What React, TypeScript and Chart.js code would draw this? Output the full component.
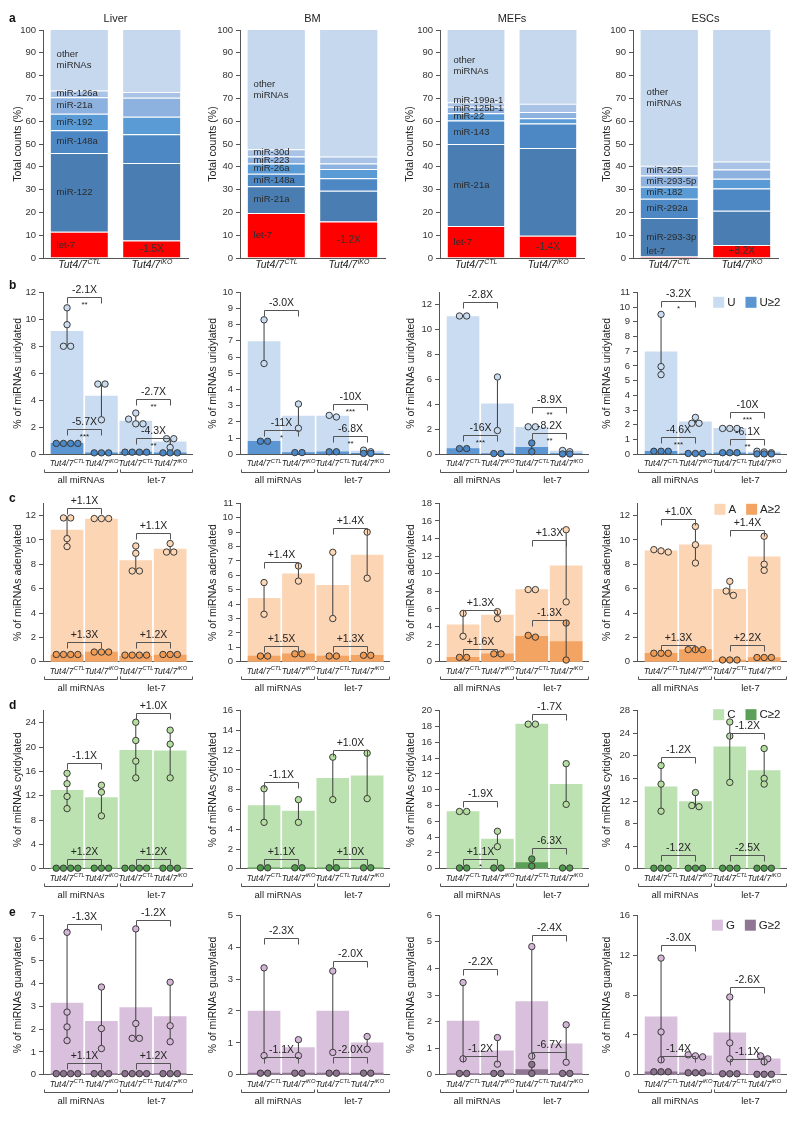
import React, { useEffect, useRef } from "react";
import { Chart, registerables } from "chart.js";
Chart.register(...registerables);

const FONT = "'Liberation Sans', Arial, Helvetica, sans-serif";
const AXIS_COLOR = "#555555";
const TEXT_COLOR = "#222222";

// ---------------- shared labels ----------------
const cellTypes = ["Liver", "BM", "MEFs", "ESCs"];
const genotypeBase = "Tut4/7";
const genotypeSup = ["CTL", "iKO", "CTL", "iKO"];
const groupNames = ["all miRNAs", "let-7"];
const panelLetters = ["a", "b", "c", "d", "e"];

// ---------------- row a: composition (%) ----------------
const liverMiRNAs = ["let-7", "miR-122", "miR-148a", "miR-192", "miR-21a", "miR-126a", "other miRNAs"];
const liverCTL = [11.5, 34.5, 10.0, 7.3, 7.2, 3.0, 26.5];
const liverKO = [7.7, 34.0, 12.6, 7.7, 8.3, 2.5, 27.2];
const bmMiRNAs = ["let-7", "miR-21a", "miR-148a", "miR-26a", "miR-223", "miR-30d", "other miRNAs"];
const bmCTL = [19.7, 11.8, 5.5, 4.5, 3.0, 3.2, 52.3];
const bmKO = [16.0, 13.5, 5.5, 4.0, 2.5, 3.0, 55.5];
const mefMiRNAs = ["let-7", "miR-21a", "miR-143", "miR-22", "miR-125b-1", "miR-199a-1", "other miRNAs"];
const mefCTL = [14.0, 36.0, 10.3, 3.2, 2.8, 2.0, 31.7];
const mefKO = [9.8, 38.5, 10.7, 2.3, 2.7, 3.7, 32.3];
const escMiRNAs = ["let-7", "miR-293-3p", "miR-292a", "miR-182", "miR-293-5p", "miR-295", "other miRNAs"];
const escCTL = [0.7, 16.8, 8.5, 5.3, 4.9, 4.3, 59.5];
const escKO = [5.7, 15.0, 9.8, 4.3, 4.0, 3.5, 57.7];
const let7Fold = ["-1.5X", "-1.2X", "-1.4X", "+8.2X"];

// ---------------- row b: uridylation ----------------
const uLabels = ["U", "U\u22652"];
const uMax = [12, 10, 13, 11];
const uStep = [1, 1, 1, 1];
const uBarLight = [[9.1, 4.3, 2.45, 0.92], [6.95, 2.35, 2.35, 0.2], [11.05, 4.05, 2.15, 0.25], [6.95, 2.2, 1.75, 0.15]];
const uBarDark = [[0.8, 0.1, 0.15, 0.1], [0.8, 0.1, 0.15, 0.05], [0.45, 0.05, 0.55, 0.02], [0.2, 0.05, 0.1, 0.02]];
const uDotsLight = [
  [[10.85, 9.6, 8.0, 8.0], [5.2, 5.2, 2.55], [3.05, 2.6, 2.25, 2.25], [1.15, 1.15, 0.5]],
  [[8.3, 5.6], [3.1, 1.6], [2.4, 2.3], [0.25, 0.15]],
  [[11.1, 11.1], [6.2, 1.9], [2.2, 2.2], [0.3, 0.2]],
  [[9.5, 5.95, 5.4], [2.5, 2.1, 2.1], [1.75, 1.75, 1.75], [0.2, 0.15, 0.1]],
];
const uDotsDark = [
  [[0.8, 0.8, 0.8, 0.8], [0.1, 0.1, 0.1], [0.15, 0.15, 0.15, 0.15], [0.1, 0.1, 0.1]],
  [[0.8, 0.8], [0.1, 0.1], [0.15, 0.15], [0.05, 0.05]],
  [[0.45, 0.45], [0.05, 0.05], [0.9, 0.2], [0.02, 0.02]],
  [[0.2, 0.2, 0.2], [0.05, 0.05, 0.05], [0.1, 0.1, 0.1], [0.02, 0.02, 0.02]],
];
const uFold = [["-2.1X", "-5.7X", "-2.7X", "-4.3X"], ["-3.0X", "-11X", "-10X", "-6.8X"], ["-2.8X", "-16X", "-8.9X", "-8.2X"], ["-3.2X", "-4.6X", "-10X", "-6.1X"]];
const uStars = [["**", "***", "**", "**"], ["", "*", "***", "**"], ["", "***", "**", "**"], ["*", "***", "***", "**"]];
const uFoldY = [[11.67, 1.89, 4.11, 1.2], [8.9, 1.5, 3.1, 1.15], [12.24, 1.56, 3.81, 1.74], [10.42, 1.2, 2.9, 1.02]];

// ---------------- row c: adenylation ----------------
const aLabels = ["A", "A\u22652"];
const aMax = [13, 11, 18, 13];
const aStep = [1, 1, 2, 1];
const aBarLight = [[10.8, 11.7, 8.3, 9.25], [4.4, 6.1, 5.3, 7.4], [4.2, 5.3, 8.2, 10.9], [9.1, 9.6, 5.95, 8.6]];
const aBarDark = [[0.55, 0.8, 0.45, 0.55], [0.4, 0.55, 0.4, 0.45], [0.5, 0.9, 2.9, 2.3], [0.7, 1.0, 0.15, 0.35]];
const aDotsLight = [
  [[11.8, 11.8, 10.1, 9.45], [11.75, 11.75, 11.75], [9.5, 8.9, 7.45, 7.45], [9.7, 9.0, 9.0]],
  [[5.5, 3.3], [6.65, 5.6], [7.6, 3.0], [9.0, 5.8]],
  [[5.5, 2.9], [5.7, 4.9], [8.2, 8.2], [15.0, 6.8]],
  [[9.2, 9.1, 9.0], [11.1, 9.6, 8.1], [6.6, 5.8, 5.45], [10.3, 8.0, 7.5]],
];
const aDotsDark = [
  [[0.6, 0.6, 0.6, 0.6], [0.8, 0.8, 0.8], [0.55, 0.55, 0.55, 0.55], [0.6, 0.6, 0.6]],
  [[0.4, 0.4], [0.55, 0.55], [0.4, 0.4], [0.45, 0.45]],
  [[0.5, 0.5], [0.9, 0.9], [3.0, 2.8], [4.4, 0.2]],
  [[0.7, 0.7, 0.7], [1.0, 1.0, 1.0], [0.15, 0.15, 0.15], [0.35, 0.35, 0.35]],
];
const aFold = [["+1.1X", "+1.3X", "+1.1X", "+1.2X"], ["+1.4X", "+1.5X", "+1.4X", "+1.3X"], ["+1.3X", "+1.6X", "+1.3X", "-1.3X"], ["+1.0X", "+1.3X", "+1.4X", "+2.2X"]];
const aStars = [["", "", "", ""], ["", "", "", ""], ["", "", "", ""], ["", "", "", ""]];
const aFoldY = [[12.59, 1.6, 10.56, 1.6], [6.9, 1.1, 9.3, 1.1], [5.9, 1.5, 13.8, 4.8], [11.7, 1.35, 10.8, 1.35]];

// ---------------- row d: cytidylation ----------------
const cLabels = ["C", "C\u22652"];
const cMax = [26, 16, 20, 28];
const cStep = [2, 2, 2, 4];
const cBarLight = [[12.9, 11.7, 19.5, 19.4], [6.4, 5.85, 9.15, 9.4], [7.25, 3.75, 18.3, 10.7], [14.5, 11.9, 21.6, 17.4]];
const cBarDark = [[0.1, 0.1, 0.1, 0.1], [0.1, 0.1, 0.1, 0.1], [0.05, 0.05, 0.8, 0.05], [0.1, 0.1, 0.1, 0.1]];
const cDotsLight = [
  [[15.7, 14.0, 11.9, 9.9], [13.75, 12.6, 8.7], [24.1, 21.1, 17.7, 14.95], [22.8, 20.5, 14.95]],
  [[8.1, 4.7], [7.0, 4.7], [11.3, 7.0], [11.7, 7.1]],
  [[7.25, 7.25], [4.75, 2.8], [18.3, 18.3], [13.3, 8.15]],
  [[18.3, 15.0, 10.2], [13.5, 11.2, 11.0], [26.0, 23.5, 15.3], [21.3, 16.0, 15.0]],
];
const cDotsDark = [
  [[0.1, 0.1, 0.1, 0.1], [0.1, 0.1, 0.1], [0.1, 0.1, 0.1, 0.1], [0.1, 0.1, 0.1]],
  [[0.1, 0.1], [0.1, 0.1], [0.1, 0.1], [0.1, 0.1]],
  [[0.1, 0.1], [0.1, 0.1], [1.25, 0.35], [0.1, 0.1]],
  [[0.1, 0.1, 0.1], [0.1, 0.1, 0.1], [0.1, 0.1, 0.1], [0.1, 0.1, 0.1]],
];
const cFold = [["-1.1X", "+1.2X", "+1.0X", "+1.2X"], ["-1.1X", "+1.1X", "+1.0X", "+1.0X"], ["-1.9X", "+1.1X", "-1.7X", "-6.3X"], ["-1.2X", "-1.2X", "-1.2X", "-2.5X"]];
const cStars = [["", "", "", ""], ["", "", "", ""], ["", "*", "", ""], ["", "", "", ""]];
const cFoldY = [[17.46, 1.62, 25.7, 1.62], [8.8, 1.0, 12.0, 1.0], [8.58, 1.3, 19.6, 2.6], [19.8, 2.5, 24.0, 2.5]];

// ---------------- row e: guanylation ----------------
const gLabels = ["G", "G\u22652"];
const gMax = [7, 5, 6, 16];
const gStep = [1, 1, 1, 4];
const gBarLight = [[3.15, 2.35, 2.95, 2.55], [2.0, 0.85, 2.0, 1.0], [2.02, 0.9, 2.75, 1.16], [5.8, 1.9, 4.2, 1.6]];
const gBarDark = [[0.05, 0.05, 0.05, 0.05], [0.05, 0.05, 0.05, 0.05], [0.05, 0.05, 0.2, 0.05], [0.3, 0.2, 0.1, 0.05]];
const gDotsLight = [
  [[6.25, 2.75, 2.1, 1.5], [3.85, 2.03, 1.15], [6.4, 2.25, 1.6, 1.6], [4.06, 2.15, 1.45]],
  [[3.35, 0.6], [1.1, 0.6], [3.25, 0.7], [1.2, 0.8]],
  [[3.47, 0.6], [1.4, 0.4], [4.82, 0.7], [1.88, 0.47]],
  [[11.7, 4.3, 1.5], [2.0, 1.9, 1.8], [7.8, 3.2, 1.6], [1.9, 1.6, 1.3]],
];
const gDotsDark = [
  [[0.05, 0.05, 0.05, 0.05], [0.05, 0.05, 0.05], [0.05, 0.05, 0.05, 0.05], [0.05, 0.05, 0.05]],
  [[0.05, 0.05], [0.05, 0.05], [0.05, 0.05], [0.05, 0.05]],
  [[0.05, 0.05], [0.05, 0.05], [0.39, 0.05], [0.05, 0.05]],
  [[0.3, 0.3, 0.3], [0.2, 0.2, 0.2], [0.1, 0.1, 0.1], [0.05, 0.05, 0.05]],
];
const gFold = [["-1.3X", "+1.1X", "-1.2X", "+1.2X"], ["-2.3X", "-1.1X", "-2.0X", "-2.0X"], ["-2.2X", "-1.2X", "-2.4X", "-6.7X"], ["-3.0X", "-1.4X", "-2.6X", "-1.1X"]];
const gStars = [["", "", "", ""], ["", "", "", ""], ["", "", "", ""], ["", "", "", ""]];
const gFoldY = [[6.63, 0.52, 6.81, 0.52], [4.3, 0.55, 3.55, 0.55], [3.97, 0.69, 5.26, 0.84], [13.0, 1.9, 8.8, 1.6]];

// ---------------- styles / layout ----------------
const SEG_COLORS = ["#ff0000", "#4a7db1", "#4e88c4", "#5b9bd5", "#8db2df", "#a9c3e6", "#c6d8ee"];
const A_NAMES = [liverMiRNAs, bmMiRNAs, mefMiRNAs, escMiRNAs];
const A_CTL = [liverCTL, bmCTL, mefCTL, escCTL];
const A_KO = [liverKO, bmKO, mefKO, escKO];
const A_AXIS_REL = [43, 40, 40, 33];
const A_RIGHT_REL = [188, 185, 184, 178];
const A_TITLE_REL = [18, 13, 10, 7];

const ROW_GEOM = [
  { top: 276, height: 214, plotTop: 292.3, plotBottom: 454.2 },
  { top: 490, height: 207, plotTop: 503.3, plotBottom: 661.8 },
  { top: 697, height: 206, plotTop: 710.7, plotBottom: 868.8 },
  { top: 903, height: 218, plotTop: 915.2, plotBottom: 1074.8 },
];
const LEGEND_DY = [10, 6, 4, 10];
const AXIS_REL = [43, 40, 39, 37];
const TITLE_REL = [18, 13, 11, 7];
const PLOT_W = 149.5;
const X_MIN = -0.7;
const X_MAX = 3.65;

const ROWS = [
  { labels: uLabels, yTitle: "% of miRNAs uridylated", max: uMax, step: uStep, barL: uBarLight, barD: uBarDark, dotsL: uDotsLight, dotsD: uDotsDark, fold: uFold, stars: uStars, foldY: uFoldY, colors: ["#c9dcf1", "#5b95d2", "#c9dcf1", "#4a88c8"] },
  { labels: aLabels, yTitle: "% of miRNAs adenylated", max: aMax, step: aStep, barL: aBarLight, barD: aBarDark, dotsL: aDotsLight, dotsD: aDotsDark, fold: aFold, stars: aStars, foldY: aFoldY, colors: ["#fcd5b5", "#f4a462", "#fdd6b3", "#f29b52"] },
  { labels: cLabels, yTitle: "% of miRNAs cytidylated", max: cMax, step: cStep, barL: cBarLight, barD: cBarDark, dotsL: cDotsLight, dotsD: cDotsDark, fold: cFold, stars: cStars, foldY: cFoldY, colors: ["#bde2b1", "#5c9f58", "#b5df9f", "#4f9a4c"] },
  { labels: gLabels, yTitle: "% of miRNAs guanylated", max: gMax, step: gStep, barL: gBarLight, barD: gBarDark, dotsL: gDotsLight, dotsD: gDotsDark, fold: gFold, stars: gStars, foldY: gFoldY, colors: ["#d9c0dc", "#8f7693", "#d5b6d8", "#8d7290"] },
];

function drawGenotype(ctx: CanvasRenderingContext2D, cx: number, cy: number, sup: string, size: number, supSize: number) {
  ctx.font = `italic ${size}px ${FONT}`;
  const w1 = ctx.measureText(genotypeBase).width;
  ctx.font = `italic ${supSize}px ${FONT}`;
  const w2 = ctx.measureText(sup).width;
  const sx = cx - (w1 + w2) / 2;
  ctx.textAlign = "left";
  ctx.textBaseline = "middle";
  ctx.fillStyle = TEXT_COLOR;
  ctx.font = `italic ${size}px ${FONT}`;
  ctx.fillText(genotypeBase, sx, cy);
  ctx.font = `italic ${supSize}px ${FONT}`;
  ctx.fillText(sup, sx + w1 + 0.3, cy - size * 0.32);
}

function yAxis(max: number, step: number, title: string, widthRel: number, titleRel: number) {
  const fs = 10.5;
  return {
    min: 0,
    max,
    ticks: { stepSize: step, font: { family: FONT, size: 9.5 }, color: "#333", padding: 3 },
    grid: { drawOnChartArea: false, drawTicks: true, tickLength: 4, color: AXIS_COLOR },
    border: { display: true, color: AXIS_COLOR, width: 1 },
    title: { display: true, text: title, font: { family: FONT, size: fs }, color: TEXT_COLOR, padding: { top: Math.max(0, titleRel - fs * 0.6), bottom: 0 } },
    afterFit: (s: any) => {
      s.width = widthRel;
    },
  };
}

function stackConfig(col: number): any {
  const names = A_NAMES[col];
  const ctl = A_CTL[col];
  const ko = A_KO[col];
  const datasets = names.map((n, i) => ({
    label: n,
    data: [ctl[i], ko[i]],
    backgroundColor: SEG_COLORS[i],
    borderColor: "#ffffff",
    borderWidth: { top: i === names.length - 1 ? 0 : 1, bottom: 0, left: 0, right: 0 },
    borderSkipped: "start",
    barPercentage: 0.79,
    categoryPercentage: 1,
  }));
  const deco = {
    id: "stackDeco",
    afterDatasetsDraw(chart: any) {
      const { ctx, chartArea, scales } = chart;
      const y = scales.y;
      const meta = chart.getDatasetMeta(0);
      const b0: any = meta.data[0];
      const b1: any = meta.data[1];
      ctx.save();
      const lx = b0.x - b0.width / 2 + 6;
      ctx.font = `9.5px ${FONT}`;
      ctx.fillStyle = "#2b2b2b";
      ctx.textAlign = "left";
      ctx.textBaseline = "middle";
      let cum = 0;
      let prev = Infinity;
      names.forEach((n, i) => {
        const mid = cum + ctl[i] / 2;
        cum += ctl[i];
        let py = y.getPixelForValue(mid);
        py = Math.min(py, chartArea.bottom - 7, prev - 8);
        prev = py;
        if (n === "other miRNAs") {
          ctx.fillText("other", lx, py - 5.5);
          ctx.fillText("miRNAs", lx, py + 5.5);
        } else {
          ctx.fillText(n, lx, py);
        }
      });
      ctx.textAlign = "center";
      ctx.font = `10px ${FONT}`;
      ctx.fillStyle = "#333";
      ctx.fillText(let7Fold[col], b1.x, y.getPixelForValue(ko[0] / 2));
      ctx.font = `11px ${FONT}`;
      ctx.fillStyle = TEXT_COLOR;
      ctx.fillText(cellTypes[col], (chartArea.left + chartArea.right) / 2, 19);
      drawGenotype(ctx, b0.x, chartArea.bottom + 7, genotypeSup[0], 10.5, 7);
      drawGenotype(ctx, b1.x, chartArea.bottom + 7, genotypeSup[1], 10.5, 7);
      ctx.restore();
    },
  };
  return {
    type: "bar",
    data: { labels: ["CTL", "iKO"], datasets },
    options: {
      responsive: false,
      animation: false,
      layout: { padding: { left: 0, right: 200 - A_RIGHT_REL[col], top: 30, bottom: 276 - 258 } },
      plugins: { legend: { display: false }, tooltip: { enabled: false } },
      scales: {
        x: {
          stacked: true,
          ticks: { display: false },
          grid: { display: false, drawTicks: false },
          border: { display: true, color: AXIS_COLOR },
          afterFit: (s: any) => {
            s.height = 0;
          },
        },
        y: { ...yAxis(100, 10, "Total counts (%)", A_AXIS_REL[col], A_TITLE_REL[col]), stacked: true },
      },
    },
    plugins: [deco],
  };
}

function swarm(vals: number[], g: number, pxX: number, pxY: number) {
  const sorted = [...vals].sort((a, b) => b - a);
  const pts: { x: number; y: number }[] = [];
  let i = 0;
  while (i < sorted.length) {
    let j = i + 1;
    while (j < sorted.length && (sorted[i] - sorted[j]) * pxY < 5.5) j++;
    const k = j - i;
    for (let m = 0; m < k; m++) {
      pts.push({ x: g + ((m - (k - 1) / 2) * 7.2) / pxX, y: sorted[i + m] });
    }
    i = j;
  }
  return pts;
}

function dotConfig(r: number, col: number): any {
  const row = ROWS[r];
  const geom = ROW_GEOM[r];
  const max = row.max[col];
  const pxX = PLOT_W / (X_MAX - X_MIN);
  const pxY = (geom.plotBottom - geom.plotTop) / max;
  const [cL, cD, dL, dD] = row.colors;
  const barL = row.barL[col];
  const barD = row.barD[col];
  const dotsL = row.dotsL[col];
  const dotsD = row.dotsD[col];
  const datasets: any[] = [
    { type: "bar", label: row.labels[0], data: barL.map((v, i) => ({ x: i, y: v })), backgroundColor: cL, borderWidth: 0, grouped: false, barThickness: 32, order: 6 },
    { type: "bar", label: row.labels[1], data: barD.map((v, i) => ({ x: i, y: v })), backgroundColor: cD, borderWidth: 0, grouped: false, barThickness: 32, order: 5 },
  ];
  [dotsL, dotsD].forEach((set) => {
    set.forEach((vals, g) => {
      const lo = Math.min(...vals);
      const hi = Math.max(...vals);
      if (hi - lo > 1e-9) {
        datasets.push({
          type: "line",
          label: "range",
          data: [{ x: g, y: lo }, { x: g, y: hi }],
          borderColor: "#3d3d3d",
          borderWidth: 1,
          pointRadius: 0,
          fill: false,
          clip: false,
          order: 4,
        });
      }
    });
  });
  const pointStyle = (fill: string, order: number, sets: number[][]) => ({
    type: "scatter",
    label: "pts",
    data: sets.flatMap((vals, g) => swarm(vals, g, pxX, pxY)),
    pointRadius: 3.2,
    pointBackgroundColor: fill,
    pointBorderColor: "#3a3a3a",
    pointBorderWidth: 1,
    clip: false,
    order,
  });
  datasets.push(pointStyle(dL, 3, dotsL));
  datasets.push(pointStyle(dD, 2, dotsD));

  const fold = row.fold[col];
  const stars = row.stars[col];
  const foldY = row.foldY[col];
  const showLegend = col === 3;
  const deco = {
    id: "dotDeco",
    afterDraw(chart: any) {
      const { ctx, chartArea, scales } = chart;
      const x = scales.x;
      const y = scales.y;
      ctx.save();
      ctx.strokeStyle = "#555";
      ctx.lineWidth = 1;
      fold.forEach((t: string, k: number) => {
        const g0 = k < 2 ? 0 : 2;
        const x0 = Math.round(x.getPixelForValue(g0)) + 0.5;
        const x1 = Math.round(x.getPixelForValue(g0 + 1)) + 0.5;
        const yy = Math.round(y.getPixelForValue(foldY[k])) + 0.5;
        ctx.beginPath();
        ctx.moveTo(x0, yy + 6);
        ctx.lineTo(x0, yy);
        ctx.lineTo(x1, yy);
        ctx.lineTo(x1, yy + 6);
        ctx.stroke();
        ctx.fillStyle = TEXT_COLOR;
        ctx.textAlign = "center";
        ctx.textBaseline = "middle";
        ctx.font = `10.5px ${FONT}`;
        ctx.fillText(t, (x0 + x1) / 2, yy - 7);
        if (stars[k]) {
          ctx.font = `8px ${FONT}`;
          ctx.fillText(stars[k], (x0 + x1) / 2, yy + 7);
        }
      });
      const bottom = chartArea.bottom;
      for (let g = 0; g < 4; g++) {
        drawGenotype(ctx, x.getPixelForValue(g), bottom + 9.5, genotypeSup[g], 8.6, 5.8);
      }
      const spans = [
        [-0.68, 1.46],
        [1.54, 3.64],
      ];
      spans.forEach(([a, b], k) => {
        const xa = Math.round(x.getPixelForValue(a)) + 0.5;
        const xb = Math.round(x.getPixelForValue(b)) + 0.5;
        const yy = Math.round(bottom + 17.5) + 0.5;
        ctx.strokeStyle = "#555";
        ctx.beginPath();
        ctx.moveTo(xa, yy - 3);
        ctx.lineTo(xa, yy);
        ctx.lineTo(xb, yy);
        ctx.lineTo(xb, yy - 3);
        ctx.stroke();
        ctx.fillStyle = TEXT_COLOR;
        ctx.font = `9.5px ${FONT}`;
        ctx.textAlign = "center";
        ctx.textBaseline = "middle";
        ctx.fillText(groupNames[k], (xa + xb) / 2, bottom + 26.5);
      });
      if (showLegend) {
        ctx.font = `11.5px ${FONT}`;
        ctx.textAlign = "left";
        ctx.textBaseline = "middle";
        const w0 = ctx.measureText(row.labels[0]).width;
        const w1 = ctx.measureText(row.labels[1]).width;
        const box = 11;
        const gap = 3;
        const between = 10;
        const total = box + gap + w0 + between + box + gap + w1;
        let lx = chartArea.right - 6 - total;
        const ly = chartArea.top + LEGEND_DY[r];
        [[cL, row.labels[0], w0], [cD, row.labels[1], w1]].forEach(([c, t, w]: any) => {
          ctx.fillStyle = c;
          ctx.fillRect(lx, ly - box / 2, box, box);
          ctx.fillStyle = TEXT_COLOR;
          ctx.fillText(t, lx + box + gap, ly + 0.5);
          lx += box + gap + w + between;
        });
      }
      ctx.restore();
    },
  };

  return {
    type: "bar",
    data: { datasets },
    options: {
      responsive: false,
      animation: false,
      layout: {
        padding: {
          left: 0,
          right: 200 - (AXIS_REL[col] + PLOT_W),
          top: geom.plotTop - geom.top,
          bottom: geom.top + geom.height - geom.plotBottom,
        },
      },
      plugins: {
        tooltip: { enabled: false },
        legend: { display: false },
      },
      scales: {
        x: {
          type: "linear",
          offset: false,
          min: X_MIN,
          max: X_MAX,
          ticks: { display: false },
          grid: { display: false, drawTicks: false, offset: false },
          border: { display: true, color: AXIS_COLOR },
          afterFit: (s: any) => {
            s.height = 0;
          },
        },
        y: yAxis(max, row.step[col], row.yTitle, AXIS_REL[col], TITLE_REL[col]),
      },
    },
    plugins: [deco],
  };
}

function ChartCanvas({ left, top, width, height, make }: { left: number; top: number; width: number; height: number; make: () => any }) {
  const ref = useRef<HTMLCanvasElement>(null);
  useEffect(() => {
    const chart = new Chart(ref.current as HTMLCanvasElement, make());
    return () => chart.destroy();
  }, []);
  return <canvas ref={ref} width={width} height={height} style={{ position: "absolute", left, top, width, height }} />;
}

const LETTER_Y = [18, 285, 498, 705, 912];

export default function App() {
  return (
    <div style={{ position: "absolute", left: 0, top: 0, width: 800, height: 1121, background: "#ffffff", fontFamily: FONT }}>
      {cellTypes.map((c, i) => (
        <ChartCanvas key={"a" + c} left={i * 200} top={0} width={200} height={276} make={() => stackConfig(i)} />
      ))}
      {ROWS.map((row, r) =>
        cellTypes.map((c, col) => (
          <ChartCanvas
            key={row.labels[0] + c}
            left={col * 200}
            top={ROW_GEOM[r].top}
            width={200}
            height={ROW_GEOM[r].height}
            make={() => dotConfig(r, col)}
          />
        ))
      )}
      {panelLetters.map((l, i) => (
        <div key={l} style={{ position: "absolute", left: 9, top: LETTER_Y[i] - 7, fontWeight: "bold", fontSize: 12, lineHeight: "14px", color: "#111" }}>
          {l}
        </div>
      ))}
    </div>
  );
}
